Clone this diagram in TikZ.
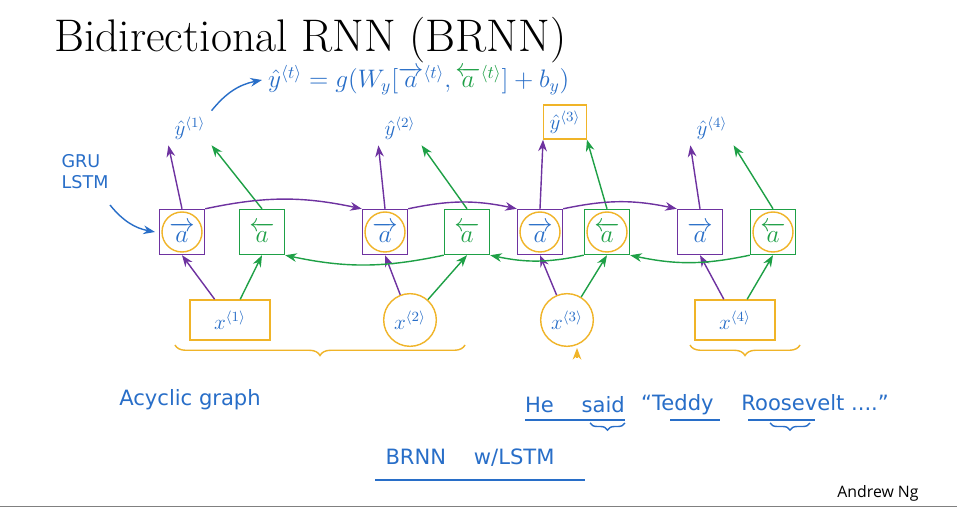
\documentclass[tikz,border=0pt]{standalone}
\usepackage{fontspec}
\usepackage{amsmath}
\newfontfamily\hand{DejaVu Sans}
\newfontfamily\ngfont{Open Sans}
\usetikzlibrary{decorations.pathreplacing,arrows.meta}
\definecolor{hb}{RGB}{40,110,200}
\definecolor{pu}{RGB}{110,50,160}
\definecolor{gr}{RGB}{30,160,70}
\definecolor{og}{RGB}{240,180,40}
\begin{document}
\begin{tikzpicture}[x=0.02cm,y=-0.02cm,
 fw/.style={draw=pu,thick,minimum size=0.9cm,text=hb,font=\hand\Large},
 bw/.style={draw=gr,thick,minimum size=0.9cm,text=gr,font=\hand\Large},
 yh/.style={text=hb,font=\hand\large},
 pa/.style={pu,thick,-{Stealth}},
 ga/.style={gr,thick,-{Stealth}},
 xa/.style={pu,thick,-{Stealth}},
 txt/.style={text=hb,font=\hand}]
\useasboundingbox (0,0) rectangle (957,509);
\fill[white] (0,0) rectangle (957,509);
\node[anchor=west,font=\fontsize{26}{30}\selectfont] (title) at (48,40) {Bidirectional RNN (BRNN)};
\node[txt,anchor=west,font=\hand\Large] (eq) at (262,80) {$\hat{y}^{\langle t\rangle} = g(W_y[\overrightarrow{a}^{\langle t\rangle},\textcolor{gr}{\overleftarrow{a}^{\langle t\rangle}}]+b_y)$};
\foreach \i/\x/\bx in {1/182/262,2/385/467,3/540/607,4/700/773}{
  \node[fw] (f\i) at (\x,232) {$\overrightarrow{a}$};
  \node[bw] (b\i) at (\bx,232) {$\overleftarrow{a}$};
}
\node[yh] (y1) at (190,128) {$\hat{y}^{\langle 1\rangle}$};
\node[yh] (y2) at (400,128) {$\hat{y}^{\langle 2\rangle}$};
\node[yh,draw=og,thick] (y3) at (565,122) {$\hat{y}^{\langle 3\rangle}$};
\node[yh] (y4) at (712,128) {$\hat{y}^{\langle 4\rangle}$};
\draw[hb,thick,-{Stealth}] (y1.north east) to[bend left=20] (eq.west);
\foreach \i in {1,2,3,4}{
 \draw[pa] (f\i.north) -- (y\i.south west);
 \draw[ga] (b\i.north) -- (y\i.south east);
}
\node[txt,font=\hand\large,draw=og,thick,minimum width=1.6cm,minimum height=0.8cm] (x1) at (230,320) {$x^{\langle 1\rangle}$};
\node[txt,font=\hand\large,draw=og,thick,circle] (x2) at (410,320) {$x^{\langle 2\rangle}$};
\node[txt,font=\hand\large,draw=og,thick,circle] (x3) at (567,320) {$x^{\langle 3\rangle}$};
\node[txt,font=\hand\large,draw=og,thick,minimum width=1.6cm,minimum height=0.8cm] (x4) at (735,320) {$x^{\langle 4\rangle}$};
\foreach \i in {1,2,3,4}{
 \draw[xa] (x\i) -- (f\i.south);
 \draw[ga] (x\i) -- (b\i.south);
}
\draw[pa] (f1.north east) to[bend left=12] (f2.north west);
\draw[pa] (f2.north east) to[bend left=12] (f3.north west);
\draw[pa] (f3.north east) to[bend left=12] (f4.north west);
\draw[ga] (b4.south west) to[bend left=12] (b3.south east);
\draw[ga] (b3.south west) to[bend left=12] (b2.south east);
\draw[ga] (b2.south west) to[bend left=12] (b1.south east);
\foreach \n in {f1,f2,f3,b3,b4} \draw[og,thick] (\n) circle (0.4cm);
\draw[og,thick,decorate,decoration={brace,mirror,amplitude=6pt}] (175,345) -- (465,345);
\draw[og,thick,decorate,decoration={brace,mirror,amplitude=6pt}] (690,345) -- (800,345);
\draw[og,thick,-{Stealth}] (577,358) -- (577,348);
\node[txt,align=left] (gru) at (85,172) {GRU\\LSTM};
\draw[hb,thick,-{Stealth}] (110,205) to[bend right=20] (155,232);
\node[txt,font=\hand\large] (acy) at (190,400) {Acyclic graph};
\node[txt,font=\hand\large] (he) at (575,405) {He \quad said};
\node[txt,font=\hand\large] (ted) at (765,405) {“Teddy \quad Roosevelt ....”};
\draw[hb,thick] (525,420) -- (625,420);
\draw[hb,thick,decorate,decoration={brace,mirror,amplitude=4pt}] (590,423) -- (625,423);
\draw[hb,thick] (670,420) -- (720,420);
\draw[hb,thick] (748,420) -- (815,420);
\draw[hb,thick,decorate,decoration={brace,mirror,amplitude=4pt}] (770,423) -- (810,423);
\node[txt,font=\hand\large] (brnn) at (470,458) {BRNN \quad w/LSTM};
\draw[hb,thick] (375,480) -- (585,480);
\node[font=\ngfont\small] (ng) at (878,493) {Andrew Ng};
\draw[gray] (0,506) -- (957,506);
\end{tikzpicture}
\end{document}
